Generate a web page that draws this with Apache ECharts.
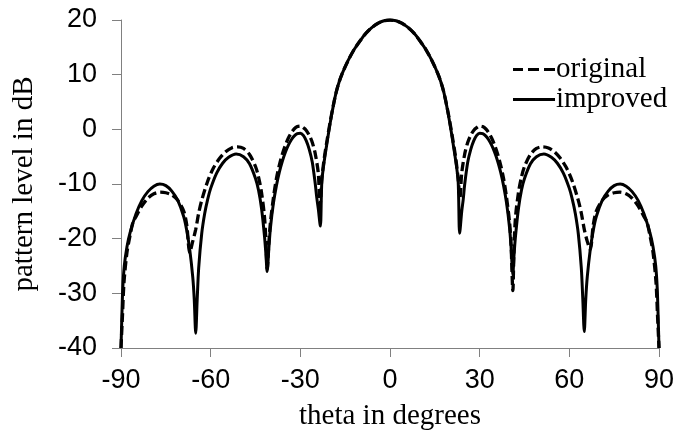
<!DOCTYPE html>
<html>
<head>
<meta charset="utf-8">
<script src="https://cdn.jsdelivr.net/npm/echarts@6/dist/echarts.min.js"></script>
<style>
html,body{margin:0;padding:0;background:#fff;}
#chart{width:678px;height:438px;}
</style>
</head>
<body>
<div id="chart"></div>
<script>
// theta (degrees) and pattern level (dB)
var thetaImproved = [-90,-89.7,-89.4,-88.9,-88,-87,-85,-83,-81,-79,-77,-75,-73,-71,-69,-68,-67,-66,-65.5,-65,-64.5,-64,-63,-62,-61,-60,-58,-56,-54,-51.5,-49,-47,-45,-44,-43,-42,-41.5,-41.1,-40.5,-40,-39,-38,-37,-36,-35,-34,-33,-32,-31,-30,-29,-28,-27,-26,-25,-24.5,-24,-23.3,-22.8,-22,-21,-20,-19,-18,-17,-16,-14,-12,-10,-8,-6,-4,-2,0,
  2,4,6,8,10,12,14,16,17,18,19,20,21,22,22.8,23.3,24,24.5,25,26,27,28,29,30,31,32,33,34,35,36,37,38,39,40,40.5,41.1,41.5,42,43,44,45,47,49,51.5,54,56,58,60,61,62,63,64,64.5,65,65.5,66,67,68,69,71,73,75,77,79,81,83,85,87,88,88.9,89.4,89.7,90];
var levelImproved = [-40,-34,-29,-25,-21.5,-19,-15.5,-13,-11.4,-10.4,-10,-10.3,-11.3,-13,-16,-18.5,-22,-27,-31,-37.3,-31,-25.3,-19.1,-15.4,-12.8,-10.8,-8,-6.2,-5.1,-4.5,-5,-6.3,-9,-11.1,-14.4,-19.5,-23,-26,-21.5,-18,-13.5,-10.3,-7.8,-5.8,-4.2,-2.9,-1.9,-1.2,-0.8,-0.7,-1.1,-2.1,-3.7,-6,-10,-12.5,-14.5,-17.7,-9.5,-5.8,-2.2,1.2,4.2,6.8,8.7,10.2,12.6,14.6,16.2,17.6,18.65,19.4,19.85,20,
  19.85,19.4,18.65,17.6,16.2,14.6,12.6,10.2,8.7,6.8,4.2,1.2,-2.2,-5.8,-9.5,-19,-15,-12.8,-10,-6,-3.7,-2.1,-1.1,-0.7,-0.8,-1.2,-1.9,-2.9,-4.2,-5.8,-7.8,-10.3,-13.5,-18,-21.5,-26.5,-23,-19.5,-14.4,-11.1,-9,-6.3,-5,-4.5,-5.1,-6.2,-8,-10.8,-12.8,-15.4,-19.1,-25.3,-31,-37,-31,-27,-22,-18.5,-16,-13,-11.3,-10.3,-10,-10.4,-11.4,-13,-15.5,-19,-21.5,-25,-29,-34,-40];

var thetaOriginal = [-90,-89.5,-89,-88,-87,-86,-85,-83,-81,-79,-77,-75,-73,-71,-69,-68,-67,-66,-65,-64,-63,-61,-59,-57,-55,-53,-51,-49,-47,-45,-44,-43,-42,-41.5,-41.1,-40.5,-40,-39,-38,-37,-36,-35,-34,-33,-32,-31,-30,-29,-28,-27,-26,-25,-24,-23.4,-22.8,-22,-21,-20,-19,-18,-17,-16,-14,-12,-10,-8,-6,-4,-2,0,
  2,4,6,8,10,12,14,16,17,18,19,20,21,22,22.8,23.4,24,25,26,27,28,29,30,31,32,33,34,35,36,37,38,39,40,40.5,41.1,41.5,42,43,44,45,47,49,51,53,55,57,59,61,63,64,65,66,67,68,69,71,73,75,77,79,81,83,85,86,87,88,89,89.5,90];
var levelOriginal = [-40,-34,-28,-22.5,-19.5,-17,-16,-14,-12.6,-11.8,-11.5,-11.6,-12,-13,-15,-17.5,-22.5,-20.5,-18.3,-15.3,-13,-9.5,-7,-5.3,-4.1,-3.4,-3.2,-3.5,-4.6,-6.8,-8.7,-11.5,-16,-20.5,-25.5,-20.5,-17,-12.5,-9,-6.5,-4.5,-2.9,-1.6,-0.6,0.1,0.5,0.6,0.3,-0.2,-1.1,-2.4,-4.5,-8,-14,-9,-5.3,-1.8,1.4,4.3,6.8,8.7,10.2,12.6,14.6,16.2,17.6,18.65,19.4,19.85,20,
  19.85,19.4,18.65,17.6,16.2,14.6,12.6,10.2,8.7,6.8,4.3,1.4,-1.8,-5.3,-9,-12.5,-8,-4.5,-2.4,-1.1,-0.2,0.3,0.6,0.5,0.1,-0.6,-1.6,-2.9,-4.5,-6.5,-9,-12.5,-17,-21,-29.5,-21.5,-16,-11.5,-8.7,-6.8,-4.6,-3.5,-3.2,-3.4,-4.1,-5.3,-7,-9.5,-13,-15.3,-18.3,-20.5,-22,-17.5,-15,-13,-12,-11.6,-11.5,-11.8,-12.6,-14,-16,-17,-19.5,-22.5,-28,-34,-40];

var seriesNames = ['original', 'improved'];
var xTicks = [-90, -60, -30, 0, 30, 60, 90];
var yTicks = [-40, -30, -20, -10, 0, 10, 20];
var xTitle = 'theta in degrees';
var yTitle = 'pattern level in dB';

function pairs(xs, ys) {
  var out = [];
  for (var i = 0; i < xs.length; i++) out.push([xs[i], ys[i]]);
  return out;
}

var chart = echarts.init(document.getElementById('chart'), null, {renderer: 'canvas'});
var axisCol = '#808080';
chart.setOption({
  animation: false,
  backgroundColor: '#fff',
  grid: {left: 121, right: 19, top: 20, bottom: 90, containLabel: false},
  legend: {
    orient: 'vertical',
    left: 508, top: 50,
    itemWidth: 42, itemHeight: 3, itemGap: 1,
    textStyle: {fontFamily: 'Liberation Serif', fontSize: 29, color: '#000', padding: [0,0,0,-4]},
    data: [
      {name: seriesNames[0], icon: 'path://M0,0h10v3h-10z M15,0h11v3h-11z M31,0h11v3h-11z'},
      {name: seriesNames[1], icon: 'path://M0,0h42v3h-42z'}
    ]
  },
  xAxis: {
    type: 'value', min: xTicks[0], max: xTicks[xTicks.length-1], interval: 30,
    name: xTitle, nameLocation: 'middle', nameGap: 54,
    nameTextStyle: {fontFamily: 'Liberation Serif', fontSize: 29, color: '#000'},
    axisLine: {onZero: false, lineStyle: {color: axisCol, width: 1}},
    axisTick: {show: true, inside: false, length: 9, lineStyle: {color: axisCol}},
    axisLabel: {margin: 19, fontFamily: 'Liberation Sans', fontSize: 27, color: '#000'},
    splitLine: {show: false}
  },
  yAxis: {
    type: 'value', min: yTicks[0], max: yTicks[yTicks.length-1], interval: 10,
    name: yTitle, nameLocation: 'middle', nameGap: 82, nameRotate: 90,
    nameTextStyle: {fontFamily: 'Liberation Serif', fontSize: 29, color: '#000'},
    axisLine: {show: true, onZero: false, lineStyle: {color: axisCol, width: 1}},
    axisTick: {show: true, inside: false, length: 9, lineStyle: {color: axisCol}},
    axisLabel: {margin: 24, fontFamily: 'Liberation Sans', fontSize: 27, color: '#000'},
    splitLine: {show: false}
  },
  series: [
    {
      name: seriesNames[0], type: 'line', data: pairs(thetaOriginal, levelOriginal),
      symbol: 'none', smooth: 0.3, color: '#000',
      lineStyle: {color: '#000', width: 3.3, type: [9, 4]}
    },
    {
      name: seriesNames[1], type: 'line', data: pairs(thetaImproved, levelImproved),
      symbol: 'none', smooth: 0.3, color: '#000',
      lineStyle: {color: '#000', width: 3, type: 'solid'}
    }
  ]
});
</script>
</body>
</html>
